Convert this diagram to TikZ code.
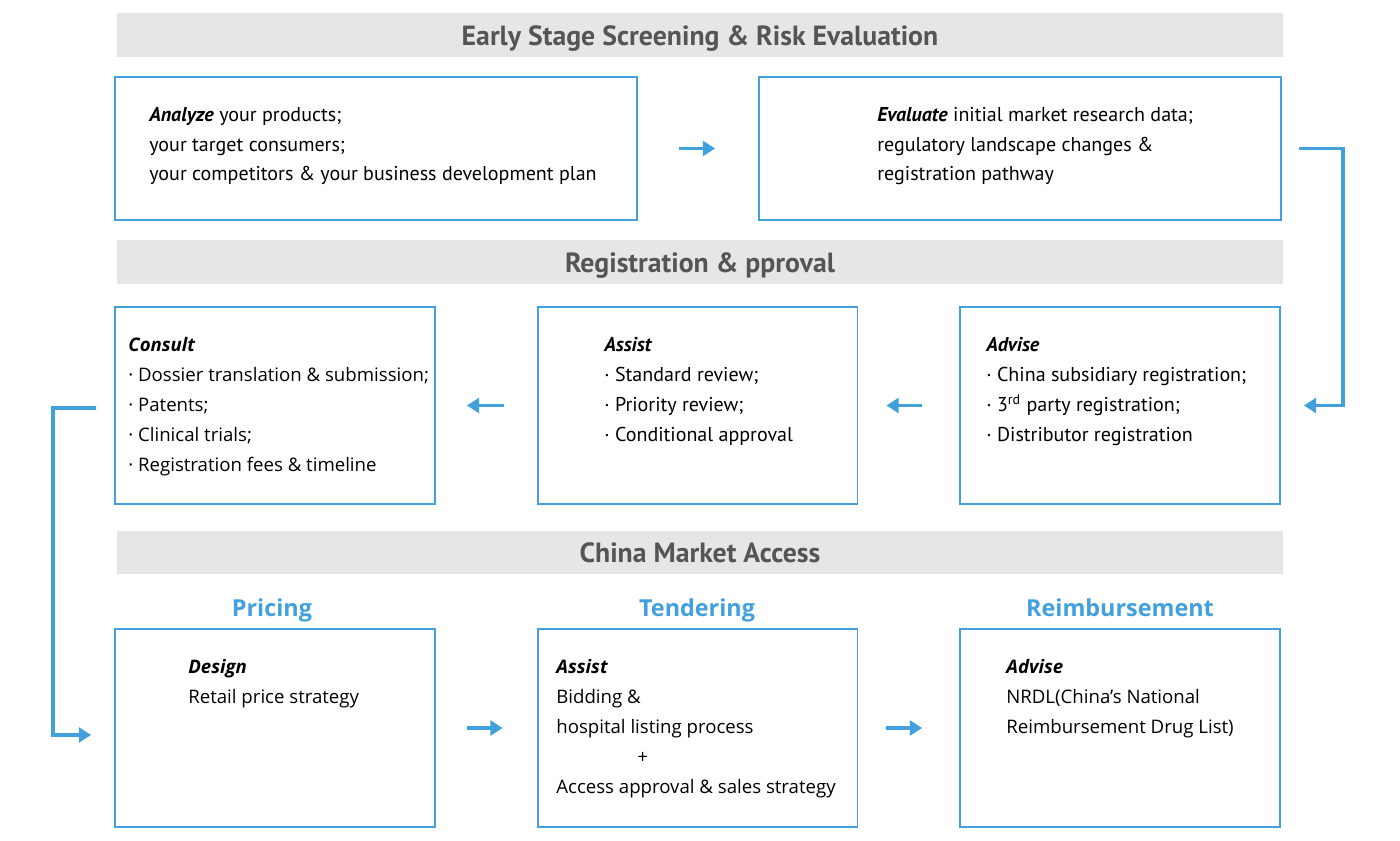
\documentclass[tikz,border=0pt]{standalone}
\usepackage{fontspec}
\setmainfont{Open Sans}
\newfontfamily\narrowfont{PT Sans}
\usetikzlibrary{arrows.meta}
\definecolor{flowblue}{RGB}{66,160,220}
\definecolor{bandgray}{RGB}{230,230,230}
\definecolor{headgray}{RGB}{85,85,85}

\begin{document}
\begin{tikzpicture}[
    x=0.02cm, y=-0.02cm,
    band/.style={fill=bandgray, draw=none, minimum width=23.32cm, minimum height=0.88cm, inner sep=0pt, text height=15pt, text depth=3.6pt, text=headgray, font=\narrowfont\bfseries\fontsize{15.8}{17}\selectfont},
    widebox/.style={draw=flowblue, line width=1.1pt, fill=white, minimum width=10.44cm, minimum height=2.86cm, inner sep=0pt},
    box/.style={draw=flowblue, line width=1.1pt, fill=white, minimum width=6.4cm, minimum height=3.95cm, inner sep=0pt},
    txt/.style={anchor=base west, align=left, inner sep=0pt, font=\fontsize{10.6}{17}\selectfont},
    ntxt/.style={anchor=base west, align=left, inner sep=0pt, font=\narrowfont\fontsize{11.4}{17}\selectfont},
    title/.style={anchor=base, inner sep=0pt, text=flowblue, font=\bfseries\fontsize{13.3}{17}\selectfont},
    arrow/.style={-{Triangle[length=7pt, width=8.5pt]}, line width=2.2pt, draw=flowblue, line join=miter}
]
\useasboundingbox (0,0) rectangle (1400,841);

% Early stage (text nodes sit on their last baseline)
\node[band] (band1) at (700,35) {Early Stage Screening \& Risk Evaluation};
\node[widebox] (analyze) at (376,148.5) {};
\node[widebox] (evaluate) at (1020,148.5) {};
\node[ntxt] (analyzetxt) at (149,181)
  {\textbf{\textit{Analyze}} your products;\\your target consumers;\\your competitors \& your business development plan};
\node[ntxt] (evaluatetxt) at (877,181)
  {\textbf{\textit{Evaluate}} initial market research data;\\regulatory landscape changes \&\\registration pathway};

% Registration
\node[band] (band2) at (700,262) {Registration \& pproval};
\node[box] (consult) at (275,405.5) {};
\node[box] (assist) at (697.5,405.5) {};
\node[box] (advise) at (1120,405.5) {};
\node[txt] (consulttxt) at (128,471)
  {\textbf{\textit{Consult}}\\· Dossier translation \& submission;\\· Patents;\\· Clinical trials;\\· Registration fees \& timeline};
\node[ntxt] (assisttxt) at (604,441)
  {\textbf{\textit{Assist}}\\· Standard review;\\· Priority review;\\· Conditional approval};
\node[ntxt] (advisetxt) at (986,441)
  {\textbf{\textit{Advise}}\\· China subsidiary registration;\\· 3\textsuperscript{rd} party registration;\\· Distributor registration};

% Market access
\node[band] (band3) at (700,552.5) {China Market Access};
\node[title] (pricingttl) at (272,616) {Pricing};
\node[title] (tenderttl) at (697,616) {Tendering};
\node[title] (reimbttl) at (1120,616) {Reimbursement};
\node[box] (pricing) at (275,728) {};
\node[box] (tender) at (697.5,728) {};
\node[box] (reimb) at (1120,728) {};
\node[txt] (pricingtxt) at (188,703)
  {\textbf{\textit{Design}}\\Retail price strategy};
\node[txt] (tendertxt) at (556,793)
  {\textbf{\textit{Assist}}\\Bidding \&\\hospital listing process\\\hspace*{1.62cm}+\\Access approval \& sales strategy};
\node[txt] (reimbtxt) at (1006,733)
  {\textbf{\textit{Advise}}\\NRDL(China’s National\\Reimbursement Drug List)};

% Connectors
\coordinate (rturn) at (1343,148.5);
\coordinate (lturn) at (53,408);
\draw[arrow] ([xshift=0.82cm]analyze.east) -- ([xshift=-0.86cm]evaluate.west);
\draw[arrow] ([xshift=0.34cm]evaluate.east) -- (rturn) |- ([xshift=0.46cm]advise.east);
\draw[arrow] ([xshift=-0.74cm]advise.west) -- ([xshift=0.56cm]assist.east);
\draw[arrow] ([xshift=-0.66cm]assist.west) -- ([xshift=0.62cm]consult.east);
\draw[arrow] ([xshift=-0.36cm, yshift=-0.05cm]consult.west) -- (lturn) |- ([xshift=-0.46cm, yshift=-0.14cm]pricing.west);
\draw[arrow] ([xshift=0.62cm]pricing.east) -- ([xshift=-0.68cm]tender.west);
\draw[arrow] ([xshift=0.56cm]tender.east) -- ([xshift=-0.74cm]reimb.west);

\end{tikzpicture}
\end{document}
